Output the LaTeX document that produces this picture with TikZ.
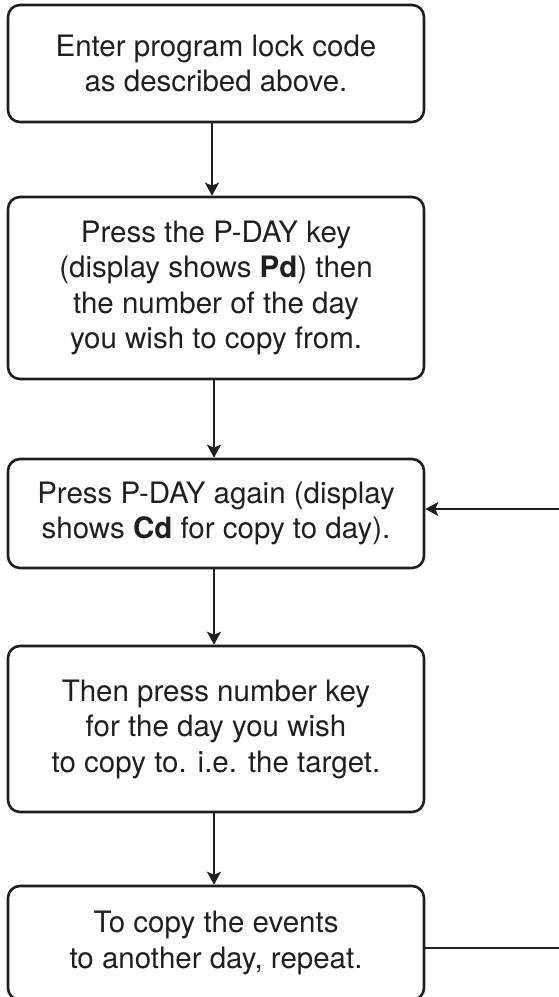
\documentclass[tikz,border=0pt]{standalone}
\usepackage{fontspec}
\setmainfont{TeX Gyre Heros}
\usetikzlibrary{arrows.meta}
\tikzset{
  box/.style={draw=black!88, line width=2.6pt, rounded corners=12pt, minimum width=416pt,
    inner sep=0pt, align=center, font=\fontsize{29.5}{35.5}\selectfont, text=black!88},
  arr/.style={draw=black!88, line width=1.8pt, -{Stealth[length=13pt,width=14pt,inset=3pt]}},
  ln/.style={draw=black!88, line width=1.8pt}
}
\begin{document}
\begin{tikzpicture}[x=1pt,y=-1pt]
\useasboundingbox (0,0) rectangle (558,997);
\node[box, minimum height=117pt] (b1) at (216,63.5) {Enter program lock code\\as described above.};
\node[box, minimum height=182pt] (b2) at (216,288) {Press the P-DAY key\\(display shows \textbf{Pd}) then\\the number of the day\\you wish to copy from.};
\node[box, minimum height=109pt] (b3) at (216,513.5) {Press P-DAY again (display\\shows \textbf{Cd} for copy to day).};
\node[box, minimum height=166pt] (b4) at (216,729) {Then press number key\\for the day you wish\\to copy to. i.e. the target.};
\node[box, minimum height=114pt] (b5) at (216,943) {To copy the events\\to another day, repeat.};
\coordinate (r3) at (560,509);
\coordinate (r5) at (560,948);
\draw[arr] ([xshift=-4pt]b1.south) -- ([xshift=-4pt]b2.north);
\draw[arr] ([xshift=-2pt]b2.south) -- ([xshift=-2pt]b3.north);
\draw[arr] ([xshift=-2pt]b3.south) -- ([xshift=-2pt]b4.north);
\draw[arr] ([xshift=-2pt]b4.south) -- ([xshift=-2pt]b5.north);
\draw[arr] (r3) -- (r3 -| b3.east);
\draw[ln] (r5 -| b5.east) -- (r5);
\end{tikzpicture}
\end{document}
